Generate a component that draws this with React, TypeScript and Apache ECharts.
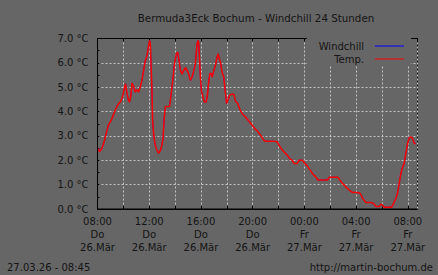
import React, { useEffect, useRef } from "react";
import * as echarts from "echarts";

// minutes after 26.03. 08:00
const timeMinutes = [
  5, 9, 20, 31, 44, 51, 67, 82, 93, 109, 118, 124, 130, 137, 144, 149, 155, 160, 168, 175,
  183, 191, 199, 206, 214, 222, 230, 237, 242, 245, 248, 253, 256, 261, 268, 276, 284, 292, 299, 304,
  310, 315, 326, 335, 341, 351, 357, 366, 372, 377, 385, 392, 400, 408, 416, 423, 431, 439, 447, 454,
  462, 467, 470, 473, 478, 482, 489, 496, 504, 510, 516, 521, 527, 532, 540, 547, 555, 560, 566, 572,
  578, 586, 594, 599, 605, 613, 622, 633, 640, 651, 659, 671, 687, 702, 718, 730, 741, 757, 772, 780,
  795, 819, 834, 842, 854, 865, 881, 892, 904, 912, 927, 935, 951, 963, 971, 982, 997, 1013, 1023, 1044,
  1067, 1075, 1098, 1116, 1126, 1137, 1152, 1168, 1183, 1206, 1219, 1230, 1245, 1268, 1281, 1292, 1307, 1315, 1323, 1330,
  1364, 1374, 1385, 1392, 1400, 1408, 1416, 1423, 1431, 1439, 1447, 1454, 1462, 1470, 1477,
];

const temperature = [
  2.48, 2.35, 2.48, 2.76, 3.23, 3.44, 3.71, 4.05, 4.26, 4.43, 4.67, 4.94, 5.14, 4.74, 4.46, 4.39, 4.67, 5.17, 5.03, 4.8,
  4.9, 4.8, 5.03, 5.28, 5.69, 6.1, 6.3, 6.71, 6.92, 6.78, 6.1, 4.74, 3.57, 3.03, 2.62, 2.41, 2.28, 2.41, 2.62, 2.89,
  3.78, 4.22, 4.2, 4.22, 4.67, 5.42, 5.96, 6.37, 6.44, 6.17, 5.69, 5.53, 5.69, 5.8, 5.69, 5.55, 5.28, 5.42, 5.69, 5.96,
  6.78, 6.92, 6.78, 6.24, 5.35, 4.87, 4.6, 4.39, 4.39, 4.67, 5.21, 5.55, 5.58, 5.42, 5.69, 5.89, 6.24, 6.37, 6.17, 5.96,
  5.62, 5.42, 4.74, 4.33, 4.46, 4.67, 4.71, 4.71, 4.43, 4.33, 4.12, 3.92, 3.78, 3.61, 3.44, 3.3, 3.21, 3.03, 2.82, 2.78,
  2.78, 2.78, 2.76, 2.62, 2.46, 2.35, 2.21, 2.07, 2.0, 1.87, 1.87, 2.0, 2.0, 1.87, 1.8, 1.66, 1.46, 1.32, 1.19, 1.19,
  1.19, 1.3, 1.3, 1.3, 1.17, 1.05, 0.91, 0.78, 0.68, 0.68, 0.64, 0.44, 0.27, 0.27, 0.23, 0.1, 0.1, 0.2, 0.16, 0.07,
  0.07, 0.23, 0.44, 0.64, 1.05, 1.46, 1.73, 1.87, 2.28, 2.69, 2.93, 2.96, 2.89, 2.69, 2.69,
];

const windchill = temperature;

const xTickMinutes = [0, 240, 480, 720, 960, 1200, 1440];
const xTickTimes = ["08:00", "12:00", "16:00", "20:00", "00:00", "04:00", "08:00"];
const xTickDays = ["Do", "Do", "Do", "Do", "Fr", "Fr", "Fr"];
const xTickDates = ["26.Mär", "26.Mär", "26.Mär", "26.Mär", "27.Mär", "27.Mär", "27.Mär"];
const yTickLabels = ["0.0 °C", "1.0 °C", "2.0 °C", "3.0 °C", "4.0 °C", "5.0 °C", "6.0 °C", "7.0 °C"];

const titleText = "Bermuda3Eck Bochum - Windchill 24 Stunden";
const stampText = "27.03.26 - 08:45";
const urlText = "http://martin-bochum.de";

const FONT = "DejaVu Sans";
const TXT = "#141414";

export default function App() {
  const ref = useRef<HTMLDivElement>(null);
  useEffect(() => {
    if (!ref.current) return;
    const chart = echarts.init(ref.current, null, { renderer: "svg" });
    const tempData = timeMinutes.map((t, i) => [t, temperature[i]]);
    const wcData = timeMinutes.map((t, i) => [t, windchill[i]]);
    chart.setOption({
      animation: false,
      backgroundColor: "#666666",
      textStyle: { fontFamily: FONT },
      grid: {
        left: 97.5,
        top: 38.5,
        width: 320,
        height: 170.5,
        show: true,
        borderColor: "#000",
        borderWidth: 1,
        backgroundColor: "transparent",
      },
      legend: {
        orient: "vertical",
        right: 27,
        top: 38,
        align: "right",
        icon: "rect",
        itemWidth: 29,
        itemHeight: 1,
        itemGap: 3,
        padding: [3, 7, 2, 12],
        backgroundColor: "#666666",
        selectedMode: false,
        textStyle: {
          fontFamily: FONT,
          fontSize: 10,
          lineHeight: 10,
          color: TXT,
          padding: [0, 6, 0, 0],
        },
        data: ["Windchill", "Temp."],
      },
      xAxis: [
        {
          type: "value",
          min: 0,
          max: 1485,
          interval: 120,
          axisLine: { show: true, lineStyle: { color: "#000", width: 1 } },
          axisTick: { show: true, inside: true, length: 3, lineStyle: { color: "#000" } },
          splitLine: { show: true, lineStyle: { color: "#c4c4c4", type: [2, 2], width: 1 } },
          axisLabel: {
            show: true,
            showMaxLabel: false,
            margin: 6,
            fontFamily: FONT,
            fontSize: 10,
            lineHeight: 13,
            color: TXT,
            formatter: (v: number) => {
              const i = xTickMinutes.indexOf(v);
              if (i < 0) return "";
              return xTickTimes[i] + "\n" + xTickDays[i] + "\n" + xTickDates[i];
            },
          },
        },
        {
          type: "value",
          position: "top",
          min: 0,
          max: 1485,
          interval: 120,
          axisLine: { show: true, lineStyle: { color: "#000", width: 1 } },
          axisTick: { show: true, inside: true, length: 3, lineStyle: { color: "#000" } },
          splitLine: { show: false },
          axisLabel: { show: false },
        },
      ],
      yAxis: {
        type: "value",
        min: 0,
        max: 7,
        interval: 1,
        axisLine: { show: true, lineStyle: { color: "#000", width: 1 } },
        axisTick: { show: true, inside: true, length: 2, lineStyle: { color: "#000" } },
        minorTick: { show: true, splitNumber: 2, length: 2, lineStyle: { color: "#000" } },
        splitLine: { show: true, lineStyle: { color: "#c4c4c4", type: [2, 2], width: 1 } },
        axisLabel: {
          margin: 9,
          fontFamily: FONT,
          fontSize: 10,
          color: TXT,
          formatter: (v: number) => yTickLabels[Math.round(v)] ?? "",
        },
      },
      series: [
        {
          name: "Windchill",
          type: "line",
          data: wcData,
          showSymbol: false,
          symbol: "none",
          color: "#0000ff",
          lineStyle: { color: "#0000ff", width: 0.8 },
          silent: true,
        },
        {
          name: "Temp.",
          type: "line",
          data: tempData,
          showSymbol: false,
          symbol: "none",
          color: "#ff0000",
          lineStyle: { color: "#ff0000", width: 1.5 },
          silent: true,
        },
      ],
      graphic: [
        {
          type: "text",
          x: 256,
          y: 18,
          style: {
            text: titleText,
            fontFamily: FONT,
            fontSize: 10.3,
            fill: TXT,
            textAlign: "center",
            textVerticalAlign: "middle",
          },
        },
        {
          type: "text",
          x: 7,
          y: 267,
          style: {
            text: stampText,
            fontFamily: FONT,
            fontSize: 10,
            fill: TXT,
            textAlign: "left",
            textVerticalAlign: "middle",
          },
        },
        {
          type: "text",
          x: 433,
          y: 267,
          style: {
            text: urlText,
            fontFamily: FONT,
            fontSize: 10,
            fill: TXT,
            textAlign: "right",
            textVerticalAlign: "middle",
          },
        },
      ],
    });
    return () => chart.dispose();
  }, []);
  return (
    <div
      ref={ref}
      style={{ position: "fixed", left: 0, top: 0, width: 438, height: 275 }}
    />
  );
}
